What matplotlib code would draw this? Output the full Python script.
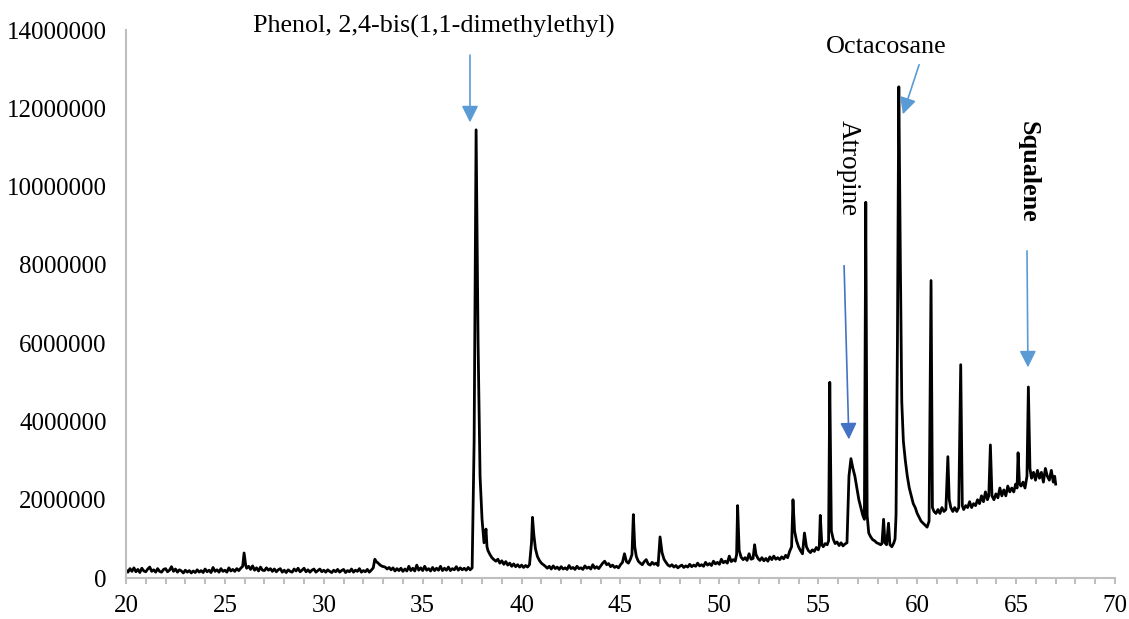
import matplotlib.pyplot as plt
import numpy as np
from matplotlib.ticker import FuncFormatter, MultipleLocator

plt.rcParams["font.family"] = ["Liberation Serif", "DejaVu Serif"]

# (retention time in min, abundance in thousands)
early = [
    (20.0, 210), (20.1, 150), (20.2, 240), (20.3, 170), (20.4, 260), (20.5, 160),
    (20.6, 220), (20.7, 140), (20.8, 250), (20.9, 180), (21.0, 160), (21.1, 230),
    (21.2, 280), (21.3, 170), (21.4, 210), (21.5, 150), (21.6, 240), (21.7, 170),
    (21.8, 150), (21.9, 220), (22.0, 240), (22.1, 160), (22.2, 200), (22.3, 290),
    (22.4, 170), (22.5, 230), (22.6, 150), (22.7, 210), (22.8, 180), (22.9, 130),
    (23.0, 200), (23.1, 150), (23.2, 190), (23.3, 130), (23.4, 180), (23.5, 140),
    (23.6, 210), (23.7, 150), (23.8, 190), (23.9, 140), (24.0, 230), (24.1, 160),
    (24.2, 200), (24.3, 140), (24.4, 270), (24.5, 170), (24.6, 210), (24.7, 150),
    (24.8, 240), (24.9, 170), (25.0, 200), (25.1, 150), (25.2, 260), (25.3, 180),
    (25.4, 220), (25.5, 170), (25.6, 240), (25.7, 190), (25.8, 250), (25.9, 300),
    (25.97, 640), (26.05, 330), (26.1, 250), (26.2, 300), (26.3, 220), (26.4, 310),
    (26.5, 200), (26.6, 260), (26.7, 180), (26.8, 280), (26.9, 200), (27.0, 190),
    (27.1, 260), (27.2, 200), (27.3, 240), (27.4, 170), (27.5, 230), (27.6, 160),
    (27.7, 210), (27.8, 240), (27.9, 150), (28.0, 200), (28.1, 140), (28.2, 210),
    (28.3, 170), (28.4, 150), (28.5, 230), (28.6, 180), (28.7, 250), (28.8, 160),
    (28.9, 200), (29.0, 250), (29.1, 160), (29.2, 210), (29.3, 150), (29.4, 200),
    (29.5, 230), (29.6, 150), (29.7, 190), (29.8, 230), (29.9, 160), (30.0, 200),
    (30.1, 150), (30.2, 210), (30.3, 170), (30.4, 140), (30.5, 200), (30.6, 160),
    (30.7, 220), (30.8, 150), (30.9, 190), (31.0, 220), (31.1, 140), (31.2, 190),
    (31.3, 160), (31.4, 230), (31.5, 150), (31.6, 200), (31.7, 170), (31.8, 240),
    (31.9, 150), (32.0, 190), (32.1, 160), (32.2, 220), (32.3, 150), (32.4, 200),
    (32.5, 260), (32.58, 480), (32.65, 420), (32.75, 380), (32.85, 330), (32.95, 300),
    (33.1, 280), (33.2, 230), (33.3, 270), (33.4, 210), (33.5, 260), (33.6, 180),
    (33.7, 240), (33.8, 190), (33.9, 250), (34.0, 170), (34.1, 230), (34.2, 180),
    (34.3, 300), (34.4, 190), (34.5, 250), (34.6, 180), (34.7, 330), (34.8, 200),
    (34.9, 260), (35.0, 190), (35.1, 300), (35.2, 200), (35.3, 240), (35.4, 180),
    (35.5, 270), (35.6, 190), (35.7, 250), (35.8, 200), (35.9, 300), (36.0, 190),
    (36.1, 250), (36.2, 200), (36.3, 280), (36.4, 190), (36.5, 240), (36.6, 210),
    (36.7, 290), (36.8, 200), (36.9, 260), (37.0, 210), (37.1, 250), (37.2, 200),
    (37.3, 270), (37.4, 210), (37.5, 260),
]
phenol_region = [
    (37.6, 3500), (37.7, 11450), (37.8, 6000), (37.9, 2600), (38.0, 1500),
    (38.1, 900), (38.2, 1250), (38.25, 800), (38.3, 700), (38.4, 600),
    (38.5, 520), (38.6, 470), (38.7, 430), (38.8, 480), (38.9, 380),
    (39.0, 440), (39.1, 350), (39.2, 420), (39.3, 330), (39.4, 380),
    (39.5, 300), (39.6, 360), (39.7, 290), (39.8, 340), (39.9, 280),
    (40.0, 330), (40.1, 270), (40.2, 320), (40.3, 280), (40.4, 340),
    (40.5, 900), (40.55, 1550), (40.62, 1100), (40.7, 750), (40.8, 550),
    (40.9, 450), (41.0, 380), (41.1, 340), (41.2, 300), (41.3, 250),
]
middle = [
    (41.4, 300), (41.5, 230), (41.6, 310), (41.7, 240), (41.8, 280), (41.9, 220),
    (42.0, 290), (42.1, 230), (42.2, 260), (42.3, 220), (42.4, 320), (42.5, 240),
    (42.6, 270), (42.7, 220), (42.8, 300), (42.9, 240), (43.0, 260), (43.1, 220),
    (43.2, 310), (43.3, 250), (43.4, 280), (43.5, 230), (43.6, 340), (43.7, 250),
    (43.8, 290), (43.9, 240), (44.0, 310), (44.1, 380), (44.2, 430), (44.3, 340),
    (44.4, 370), (44.5, 290), (44.6, 330), (44.7, 270), (44.8, 300), (44.9, 260),
    (45.0, 340), (45.1, 400), (45.2, 620), (45.3, 420), (45.4, 380), (45.5, 480),
    (45.58, 600), (45.65, 1620), (45.72, 800), (45.8, 550), (45.9, 430), (46.0, 380),
    (46.1, 340), (46.2, 420), (46.3, 470), (46.4, 360), (46.5, 330), (46.6, 400),
    (46.7, 350), (46.8, 380), (46.9, 320), (47.0, 1050), (47.1, 650), (47.2, 480),
    (47.3, 400), (47.4, 330), (47.5, 300), (47.6, 340), (47.7, 280), (47.8, 320),
    (47.9, 260), (48.0, 300), (48.1, 330), (48.2, 270), (48.3, 310), (48.4, 280),
    (48.5, 350), (48.6, 290), (48.7, 330), (48.8, 300), (48.9, 380), (49.0, 310),
    (49.1, 340), (49.2, 300), (49.3, 400), (49.4, 330), (49.5, 370), (49.6, 320),
    (49.7, 430), (49.8, 360), (49.9, 400), (50.0, 350), (50.1, 480), (50.2, 390),
    (50.3, 430), (50.4, 380), (50.5, 560), (50.6, 420), (50.7, 470), (50.8, 430),
    (50.87, 600), (50.92, 1850), (51.0, 700), (51.1, 530), (51.2, 470), (51.3, 520),
    (51.4, 450), (51.5, 620), (51.6, 480), (51.7, 500), (51.78, 850), (51.85, 600),
    (51.95, 500), (52.05, 450), (52.15, 520), (52.25, 440), (52.35, 500), (52.45, 430),
    (52.55, 540), (52.65, 470), (52.75, 560), (52.85, 480), (52.95, 520), (53.05, 470),
    (53.15, 540), (53.25, 490), (53.35, 580), (53.45, 520), (53.55, 680), (53.65, 800),
]
late = [
    (53.72, 2000), (53.8, 1200), (53.9, 950), (54.0, 800), (54.1, 700), (54.2, 620),
    (54.3, 1150), (54.4, 800), (54.5, 700), (54.6, 650), (54.7, 720), (54.8, 680),
    (54.9, 780), (55.0, 720), (55.05, 800), (55.1, 1600), (55.18, 850), (55.25, 800),
    (55.35, 880), (55.45, 850), (55.52, 950), (55.58, 5000), (55.66, 1200), (55.75, 1000),
    (55.85, 880), (55.95, 920), (56.05, 830), (56.15, 900), (56.25, 820), (56.35, 870),
    (56.45, 900), (56.55, 2600), (56.65, 3050), (56.75, 2800), (56.85, 2600), (56.95, 2300),
    (57.05, 2000), (57.15, 1800), (57.25, 1600), (57.33, 1500), (57.4, 9600), (57.47, 1600),
    (57.55, 1150), (57.65, 1050), (57.75, 980), (57.85, 950), (57.95, 900), (58.05, 880),
    (58.15, 850), (58.22, 880), (58.3, 1500), (58.37, 900), (58.45, 850), (58.55, 1400),
    (58.62, 850), (58.72, 800), (58.82, 900), (58.88, 1000), (58.93, 1600), (59.0, 6000),
    (59.07, 12550), (59.15, 8000), (59.22, 4500), (59.3, 3500), (59.4, 3000), (59.5, 2600),
    (59.6, 2300), (59.7, 2100), (59.8, 1900), (59.9, 1800), (60.0, 1650), (60.1, 1550),
    (60.2, 1450), (60.3, 1400), (60.4, 1350), (60.5, 1300), (60.6, 1450), (60.7, 7600),
    (60.77, 1800), (60.85, 1700), (60.95, 1650), (61.05, 1750), (61.15, 1650), (61.25, 1800),
    (61.35, 1700), (61.45, 1750), (61.55, 3100), (61.62, 2000), (61.7, 1800), (61.8, 1700),
    (61.9, 1800), (62.0, 1700), (62.1, 1800), (62.2, 5450), (62.28, 1850), (62.35, 1750),
    (62.45, 1850), (62.55, 1800), (62.65, 1950), (62.75, 1800), (62.85, 1900), (62.95, 1850),
    (63.05, 2000), (63.15, 1900), (63.25, 2100), (63.35, 1950), (63.45, 2200), (63.55, 2000),
    (63.62, 2100), (63.7, 3400), (63.78, 2100), (63.88, 2000), (63.98, 2150), (64.08, 2050),
    (64.18, 2300), (64.28, 2100), (64.38, 2250), (64.48, 2100), (64.58, 2350), (64.68, 2200),
    (64.78, 2300), (64.88, 2200), (64.98, 2400), (65.05, 2300), (65.1, 3200), (65.17, 2400),
    (65.25, 2350), (65.35, 2450), (65.45, 2300), (65.55, 2600), (65.62, 4880), (65.7, 2800),
    (65.78, 2550), (65.88, 2700), (65.98, 2500), (66.08, 2750), (66.18, 2550), (66.28, 2700),
    (66.38, 2450), (66.48, 2800), (66.58, 2600), (66.68, 2500), (66.78, 2750), (66.88, 2450),
    (66.95, 2600), (67.0, 2400),
]

y_ticks = [0, 2000000, 4000000, 6000000, 8000000, 10000000, 12000000, 14000000]

trace = np.array(early + phenol_region + middle + late, dtype=float)
rt = trace[:, 0]
abundance = trace[:, 1] * 1000

fig = plt.figure(figsize=(11.29, 6.19), dpi=100)
ax = fig.add_axes([0.1116, 0.0662, 0.876, 0.8853])

ax.plot(rt, abundance, color="black", lw=2.0)

ax.set_xlim(20, 70)
ax.set_ylim(0, 14000000)
ax.xaxis.set_major_locator(MultipleLocator(5))
ax.xaxis.set_minor_locator(MultipleLocator(1))
ax.set_yticks(y_ticks)
ax.yaxis.set_major_formatter(FuncFormatter(lambda v, p: f"{int(v)}"))

for s in ["top", "right"]:
    ax.spines[s].set_visible(False)
for s in ["left", "bottom"]:
    ax.spines[s].set_color("#BFBFBF")
    ax.spines[s].set_linewidth(1.5)

ax.tick_params(axis="x", which="both", direction="out", length=4, width=1.5,
               color="#BFBFBF", labelsize=18, pad=8)
ax.tick_params(axis="y", length=0, labelsize=18, pad=14)

light = "#5B9BD5"
dark = "#4472C4"
arrow = dict(arrowstyle="-|>,head_length=1.0,head_width=0.5", lw=1.2)

ax.annotate("", xy=(37.39, 11570000), xytext=(37.39, 13430000),
            arrowprops=dict(arrow, color=light))
ax.text(35.57, 14080000, "Phenol, 2,4-bis(1,1-dimethylethyl)", fontsize=18.8,
        ha="center", va="center", clip_on=False)

ax.annotate("", xy=(59.23, 11780000), xytext=(60.14, 13180000),
            arrowprops=dict(arrow, color=light))
ax.text(58.42, 13560000, "Octacosane", fontsize=18.8, ha="center", va="center")

ax.annotate("", xy=(56.55, 3470000), xytext=(56.30, 8050000),
            arrowprops=dict(arrow, color=dark))
ax.text(56.50, 10470000, "Atropine", fontsize=19.5, rotation=-90,
        ha="center", va="center")

ax.annotate("", xy=(65.60, 5310000), xytext=(65.55, 8430000),
            arrowprops=dict(arrow, color=light))
ax.text(65.60, 10370000, "Squalene", fontsize=18.8, rotation=-90,
        fontweight="bold", ha="center", va="center")

fig.savefig("out.png", dpi=100)
